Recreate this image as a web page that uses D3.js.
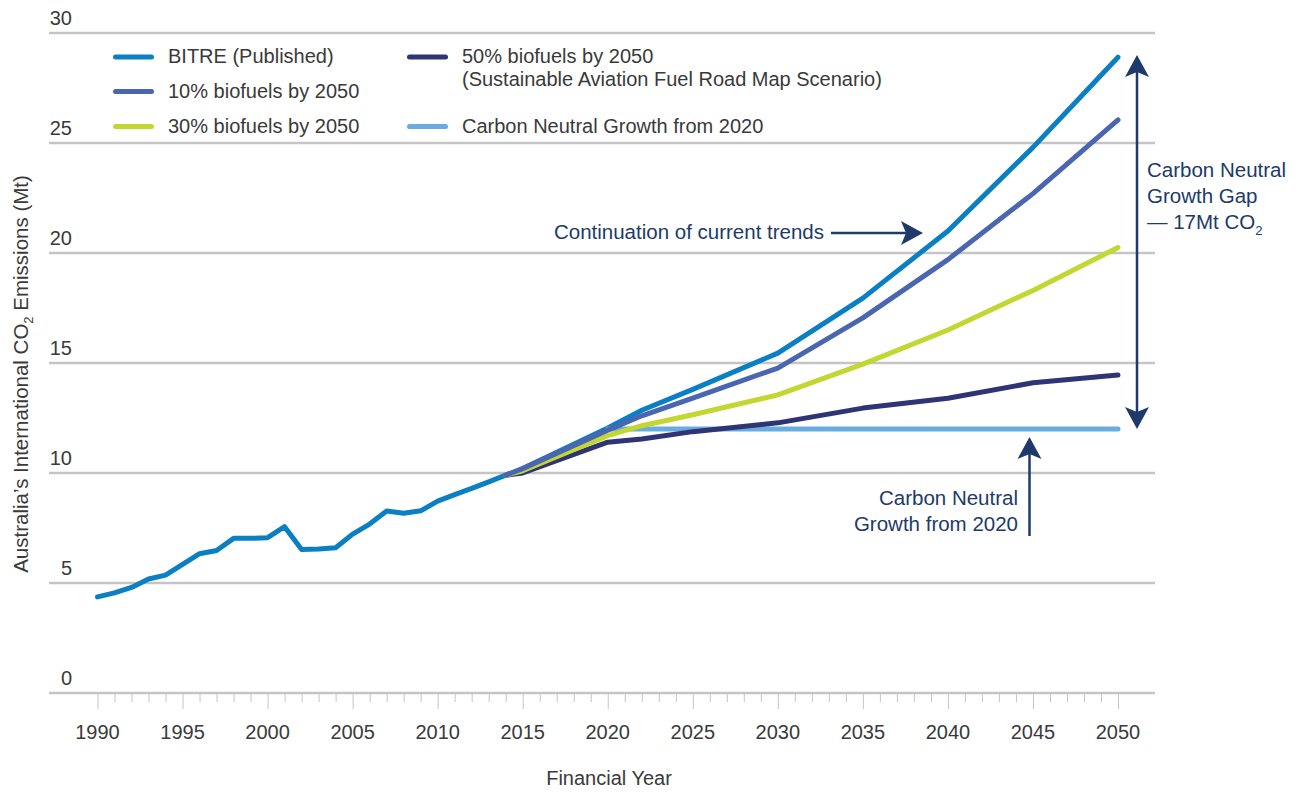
<!DOCTYPE html>
<html>
<head>
<meta charset="utf-8">
<script src="https://cdn.jsdelivr.net/npm/d3@7"></script>
<style>
  body { margin: 0; background: #fff; }
  svg { font-family: "Liberation Sans", Arial, sans-serif; }
  .tick-label { font-size: 20px; fill: #3a3a3a; }
  .note { font-size: 20.5px; fill: #1d3a6b; }
</style>
</head>
<body>
<div id="chart"></div>
<script>
// historical BITRE values
var histYears = [1990, 1991, 1992, 1993, 1994, 1995, 1996, 1997, 1998, 1999, 2000, 2001, 2002,
    2003, 2004, 2005, 2006, 2007, 2008, 2009, 2010, 2011, 2012, 2013, 2014];
var bitreHist = [4.37, 4.55, 4.8, 5.18, 5.36, 5.85, 6.33, 6.48, 7.03, 7.03, 7.06, 7.56, 6.52,
    6.55, 6.6, 7.22, 7.68, 8.27, 8.17, 8.28, 8.72, 9.02, 9.3, 9.6, 9.9];

// projections
var projYears = [2014, 2015, 2020, 2022, 2025, 2030, 2035, 2040, 2045, 2050];
var bitreProj = [9.9, 10.2, 12.05, 12.85, 13.8, 15.45, 17.95, 21.0, 24.8, 28.9];
var bio10 = [9.9, 10.2, 11.95, 12.6, 13.4, 14.77, 17.05, 19.7, 22.7, 26.05];
var bio30 = [9.9, 10.1, 11.7, 12.15, 12.65, 13.55, 14.95, 16.5, 18.3, 20.25];
var bio50 = [9.9, 10.0, 11.4, 11.55, 11.88, 12.28, 12.95, 13.4, 14.1, 14.45];
var cngYears = [2020, 2050];
var cng = [12, 12];

var yTicks = [0, 5, 10, 15, 20, 25, 30];
var xMajor = [1990, 1995, 2000, 2005, 2010, 2015, 2020, 2025, 2030, 2035, 2040, 2045, 2050];

var colors = {
    bitre: '#0a7fc4',
    b10: '#4b66b1',
    b30: '#c3d731',
    b50: '#2f3474',
    cng: '#6aace0'
};

var width = 1301, height = 792;

var svg = d3.select('#chart').append('svg')
    .attr('width', width)
    .attr('height', height);

var x = d3.scaleLinear().domain([1990, 2050]).range([97.5, 1118]);
var y = d3.scaleLinear().domain([0, 30]).range([693, 33]);

// gridlines + y labels
svg.append('g').selectAll('line').data(yTicks).enter()
    .append('line')
    .attr('x1', 49).attr('x2', 1155)
    .attr('y1', d => y(d)).attr('y2', d => y(d))
    .attr('stroke', '#c5c5c7')
    .attr('stroke-width', 2.5);

svg.append('g').selectAll('text').data(yTicks).enter()
    .append('text')
    .attr('class', 'tick-label')
    .attr('x', 72)
    .attr('y', d => y(d) - 8)
    .attr('text-anchor', 'end')
    .text(d => d);

// x axis ticks
var xAxis = d3.axisBottom(x)
    .tickValues(d3.range(1990, 2051))
    .tickSize(8)
    .tickFormat('');
var xg = svg.append('g').attr('transform', 'translate(0,694)').call(xAxis);
xg.select('.domain').remove();
xg.selectAll('.tick line')
    .attr('stroke', '#c5c5c7')
    .attr('y2', d => (d % 5 === 0 ? 15 : 8));

svg.append('g').selectAll('text').data(xMajor).enter()
    .append('text')
    .attr('class', 'tick-label')
    .attr('x', d => x(d))
    .attr('y', 739)
    .attr('text-anchor', 'middle')
    .text(d => d);

svg.append('text')
    .attr('class', 'tick-label')
    .attr('x', 609)
    .attr('y', 785)
    .attr('text-anchor', 'middle')
    .text('Financial Year');

var yTitle = svg.append('text')
    .attr('class', 'tick-label')
    .style('font-size', '20.5px')
    .attr('transform', 'translate(28,374) rotate(-90)')
    .attr('text-anchor', 'middle');
yTitle.append('tspan').text('Australia\u2019s International  CO');
yTitle.append('tspan').attr('dy', 5).style('font-size', '13px').text('2');
yTitle.append('tspan').attr('dy', -5).text(' Emissions (Mt)');

// series
var line = d3.line().x(d => x(d[0])).y(d => y(d[1]));
function pairs(xs, ys) { return xs.map((v, i) => [v, ys[i]]); }

var bitreAll = pairs(histYears, bitreHist).concat(pairs(projYears.slice(1), bitreProj.slice(1)));

var series = [
    { data: bitreAll, color: colors.bitre },
    { data: pairs(cngYears, cng), color: colors.cng },
    { data: pairs(projYears, bio50), color: colors.b50 },
    { data: pairs(projYears, bio30), color: colors.b30 },
    { data: pairs(projYears, bio10), color: colors.b10 }
];

svg.append('g').selectAll('path').data(series).enter()
    .append('path')
    .attr('d', d => line(d.data))
    .attr('fill', 'none')
    .attr('stroke', d => d.color)
    .attr('stroke-width', 5)
    .attr('stroke-linecap', 'round')
    .attr('stroke-linejoin', 'round');

// legend
var legendItems = [
    { label: ['BITRE (Published)'], color: colors.bitre, x: 113, y: 57 },
    { label: ['10% biofuels by 2050'], color: colors.b10, x: 113, y: 91.5 },
    { label: ['30% biofuels by 2050'], color: colors.b30, x: 113, y: 126.5 },
    { label: ['50% biofuels by 2050', '(Sustainable Aviation Fuel Road Map Scenario)'], color: colors.b50, x: 407, y: 57 },
    { label: ['Carbon Neutral Growth from 2020'], color: colors.cng, x: 407, y: 126.5 }
];

var leg = svg.append('g').selectAll('g').data(legendItems).enter().append('g');
leg.append('line')
    .attr('x1', d => d.x + 2.5).attr('x2', d => d.x + 38.5)
    .attr('y1', d => d.y).attr('y2', d => d.y)
    .attr('stroke', d => d.color)
    .attr('stroke-width', 5)
    .attr('stroke-linecap', 'round');
leg.each(function(d) {
    var t = d3.select(this).append('text').attr('class', 'tick-label');
    d.label.forEach((s, i) => {
        t.append('tspan').attr('x', d.x + 55).attr('y', d.y + 6 + i * 23).text(s);
    });
});

// annotations
var navy = '#1d3a6b';
function arrowHead(g, tipX, tipY, dir) {
    // dir: 'up', 'down', 'right'
    var p;
    if (dir === 'right') p = [[tipX, tipY], [tipX - 22, tipY - 12], [tipX - 17, tipY], [tipX - 22, tipY + 12]];
    if (dir === 'up') p = [[tipX, tipY], [tipX + 12, tipY + 22], [tipX, tipY + 17], [tipX - 12, tipY + 22]];
    if (dir === 'down') p = [[tipX, tipY], [tipX + 12, tipY - 22], [tipX, tipY - 17], [tipX - 12, tipY - 22]];
    g.append('path').attr('d', 'M' + p.join('L') + 'Z').attr('fill', navy);
}

var ann = svg.append('g');

ann.append('text').attr('class', 'note').attr('x', 824).attr('y', 239)
    .attr('text-anchor', 'end').text('Continuation of current trends');
ann.append('line').attr('x1', 831).attr('x2', 910).attr('y1', 233).attr('y2', 233)
    .attr('stroke', navy).attr('stroke-width', 2.5);
arrowHead(ann, 923, 233, 'right');

// gap arrow between 12 and 29
var gapX = x(2050) + 19;
ann.append('line').attr('x1', gapX).attr('x2', gapX)
    .attr('y1', y(29) + 12).attr('y2', y(cng[1]) - 12)
    .attr('stroke', navy).attr('stroke-width', 2.5);
arrowHead(ann, gapX, y(29), 'up');
arrowHead(ann, gapX, y(cng[1]), 'down');

var gapText = ann.append('text').attr('class', 'note');
gapText.append('tspan').attr('x', 1147).attr('y', 177).text('Carbon Neutral');
gapText.append('tspan').attr('x', 1147).attr('y', 203).text('Growth Gap');
gapText.append('tspan').attr('x', 1147).attr('y', 229).text('\u2014 17Mt CO');
gapText.append('tspan').attr('dy', 6).style('font-size', '13px').text('2');

// carbon neutral arrow
var cnX = 1029.5;
ann.append('line').attr('x1', cnX).attr('x2', cnX)
    .attr('y1', 536).attr('y2', y(cng[0]) + 20)
    .attr('stroke', navy).attr('stroke-width', 2.5);
arrowHead(ann, cnX, y(cng[0]) + 8, 'up');

var cnText = ann.append('text').attr('class', 'note').attr('text-anchor', 'end');
cnText.append('tspan').attr('x', 1018).attr('y', 505).text('Carbon Neutral');
cnText.append('tspan').attr('x', 1018).attr('y', 531).text('Growth from 2020');
</script>
</body>
</html>
